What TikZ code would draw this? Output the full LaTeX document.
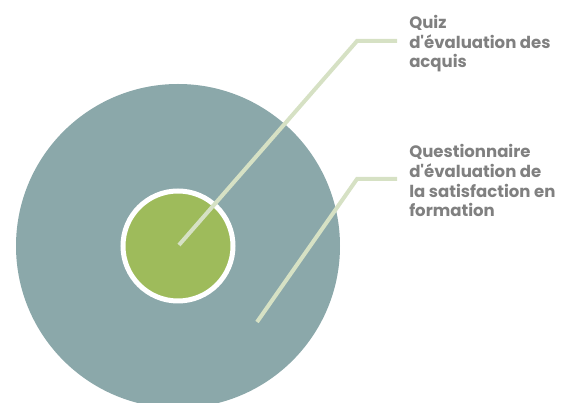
\documentclass[tikz,border=0pt]{standalone}
\usepackage{fontspec}
\setmainfont{Poppins}
\usepackage{tikz}
\usetikzlibrary{positioning}

\definecolor{ringgray}{HTML}{8BA8AA}
\definecolor{coregreen}{HTML}{9EBB5B}
\definecolor{leadgreen}{HTML}{D6E1C4}
\definecolor{labelgray}{HTML}{808080}

\tikzset{
  leader/.style={line width=3pt, leadgreen},
  label text/.style={anchor=base west, align=left, inner sep=0pt, text=labelgray,
    font=\fontsize{12.4}{14.8}\selectfont\bfseries}
}

\begin{document}
\begin{tikzpicture}[x=0.75pt, y=0.75pt]
    \useasboundingbox (0,0) rectangle (576,403);
    \clip (0,0) rectangle (576,403);

    % Outer ring and inner core
    \fill[ringgray] (178,157) circle (162);
    \draw[white, line width=3.75pt, fill=coregreen] (178,157) circle (55);

    % Labels (anchored at the baseline of the last line)
    \node[label text] (quiz) at (409,335) {Quiz\\d\textquotesingle évaluation des\\acquis};
    \node[label text] (survey) at (409,186) {Questionnaire\\d\textquotesingle évaluation de\\la satisfaction en\\formation};

    % Leader lines
    \coordinate (quizstart) at (179,158);
    \coordinate (quizbend) at (357,362);
    \coordinate (quizend) at (397,362);
    \coordinate (surveystart) at (257,81);
    \coordinate (surveybend) at (357,224);
    \coordinate (surveyend) at (397,224);
    \draw[leader] (quizstart) -- (quizbend) -- (quizend);
    \draw[leader] (surveystart) -- (surveybend) -- (surveyend);
\end{tikzpicture}
\end{document}
